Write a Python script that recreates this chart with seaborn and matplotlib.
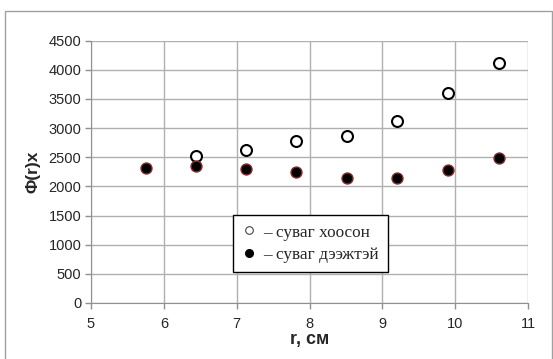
import matplotlib
matplotlib.use("Agg")
import matplotlib.pyplot as plt
import seaborn as sns
import pandas as pd
from matplotlib.lines import Line2D
from matplotlib.patches import Rectangle

# Data
r_empty = [6.44, 7.13, 7.82, 8.51, 9.20, 9.90, 10.60]
phi_empty = [2515, 2620, 2780, 2865, 3125, 3595, 4125]
r_filled = [5.75, 6.44, 7.13, 7.82, 8.51, 9.20, 9.90, 10.60]
phi_filled = [2310, 2350, 2300, 2255, 2140, 2140, 2280, 2480]
legend_labels = ["– суваг хоосон", "– суваг дээжтэй"]
xticks = [5, 6, 7, 8, 9, 10, 11]
yticks = [0, 500, 1000, 1500, 2000, 2500, 3000, 3500, 4000, 4500]

sns.set_style("white")
plt.rcParams['font.family'] = ['Liberation Sans', 'DejaVu Sans']

fig = plt.figure(figsize=(5.53, 3.59), dpi=100)
ax = fig.add_axes([91 / 553, 1 - 303 / 359, 437 / 553, 262.3 / 359])

df_e = pd.DataFrame({"r": r_empty, "phi": phi_empty})
df_f = pd.DataFrame({"r": r_filled, "phi": phi_filled})

sns.scatterplot(data=df_e, x="r", y="phi", ax=ax, s=62, marker="o",
                facecolor="white", edgecolor="black", linewidth=1.5, zorder=3, legend=False)
sns.scatterplot(data=df_f, x="r", y="phi", ax=ax, s=62, marker="o",
                color="black", edgecolor="#8b2a2a", linewidth=1.0, zorder=3, legend=False)

ax.set_xlim(5, 11)
ax.set_ylim(0, 4500)
ax.set_xticks(xticks)
ax.set_yticks(yticks)
ax.grid(True, color="#b0b0b0", linewidth=1.0)
ax.set_axisbelow(True)
for s in ["top", "right"]:
    ax.spines[s].set_visible(False)
ax.spines["left"].set_color("#909090")
ax.spines["bottom"].set_color("#909090")
ax.tick_params(axis="both", which="both", direction="out", length=4, width=1,
               color="#909090", labelsize=10.5, pad=3, left=True, bottom=True)
ax.tick_params(axis="x", pad=6)

ax.set_xlabel("r, см", fontsize=13, fontweight="bold", labelpad=0)
ax.set_ylabel("Φ(r)x", fontsize=12.5, fontweight="bold", labelpad=6)

handles = [
    Line2D([], [], linestyle="none", marker="o", markersize=5.5,
           markerfacecolor="white", markeredgecolor="#444444", markeredgewidth=0.8),
    Line2D([], [], linestyle="none", marker="o", markersize=5.5,
           markerfacecolor="black", markeredgecolor="black"),
]
leg = ax.legend(handles, legend_labels, loc="upper left",
                bbox_to_anchor=(0.325, 0.3355), borderaxespad=0, frameon=True, fancybox=False,
                framealpha=1, edgecolor="black", handlelength=0.8,
                handletextpad=0.4, borderpad=0.55, labelspacing=0.35,
                prop={"family": "Liberation Serif", "size": 12.4})
leg.get_frame().set_linewidth(1.0)

fig.patches.append(Rectangle((5 / 553, -0.01), 547 / 553, 1 - 11 / 359 + 0.01,
                             transform=fig.transFigure, fill=False,
                             edgecolor="#a0a0a0", linewidth=1.0))

fig.savefig("out.png", dpi=100)
